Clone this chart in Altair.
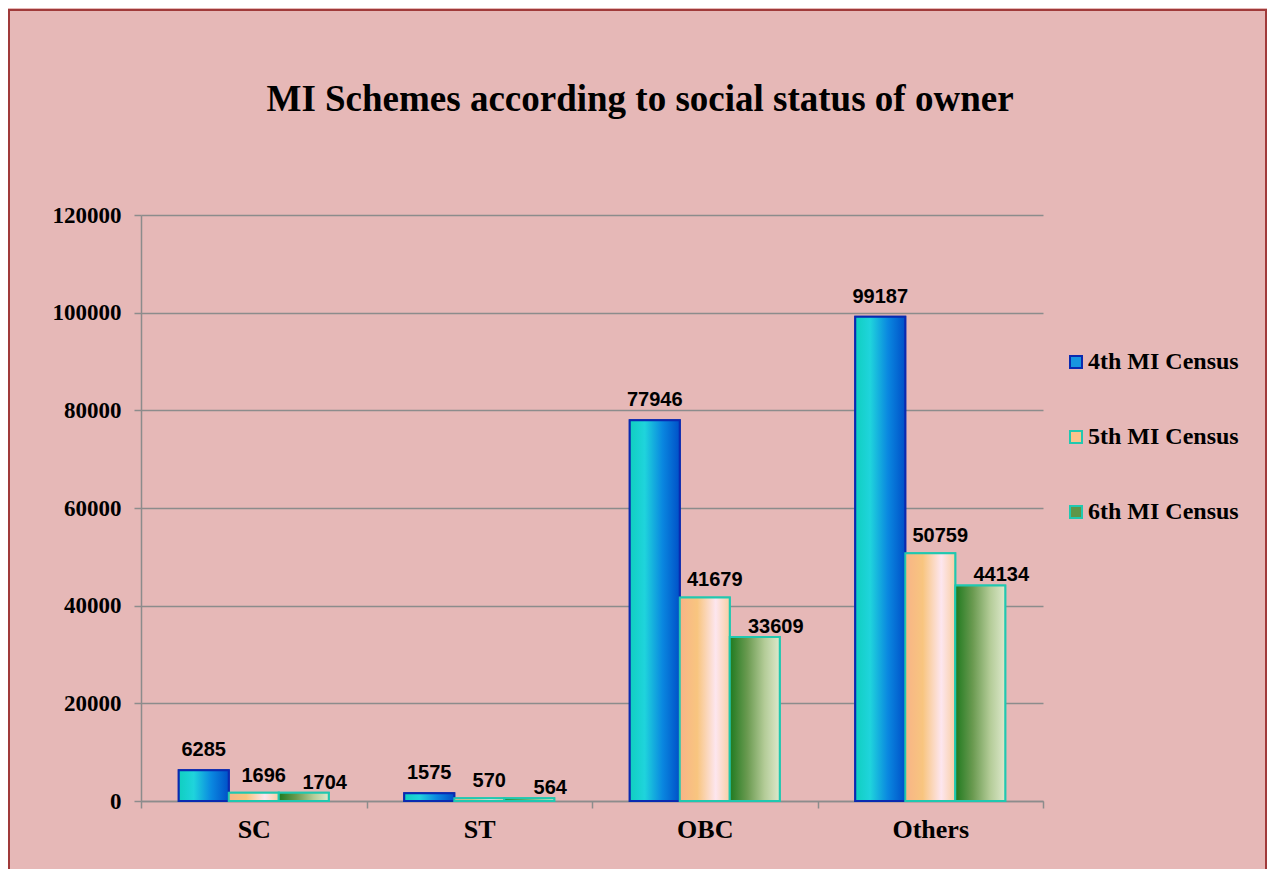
import altair as alt
import pandas as pd

categories = ["SC", "ST", "OBC", "Others"]
series = ["4th MI Census", "5th MI Census", "6th MI Census"]
census_4th = [6285, 1575, 77946, 99187]
census_5th = [1696, 570, 41679, 50759]
census_6th = [1704, 564, 33609, 44134]
y_ticks = [0, 20000, 40000, 60000, 80000, 100000, 120000]
title_text = "MI Schemes according to social status of owner"

rows = []
for s, vals in zip(series, [census_4th, census_5th, census_6th]):
    for c, v in zip(categories, vals):
        rows.append({"category": c, "series": s, "value": v})
df = pd.DataFrame(rows)

W, H = 902, 586
PAD = {"left": 133, "top": 207, "right": 224, "bottom": 68}
GRAY = "#8c8c8c"
SERIF = "Liberation Serif"

x_enc = alt.X(
    "category:N", sort=categories,
    scale=alt.Scale(paddingInner=0, paddingOuter=0),
    axis=alt.Axis(title=None, labelAngle=0, labelFont=SERIF, labelFontWeight="bold",
                  labelFontSize=26, labelColor="black", labelPadding=8,
                  tickBand="extent", tickSize=7, tickColor=GRAY, tickWidth=1.5,
                  domainColor=GRAY, domainWidth=1.5, grid=False),
)
y_enc = alt.Y(
    "value:Q", scale=alt.Scale(domain=[0, 120000]),
    axis=alt.Axis(title=None, values=y_ticks, format="d", labelFont=SERIF,
                  labelFontWeight="bold", labelFontSize=23, labelColor="black",
                  labelPadding=13, tickSize=7, tickColor=GRAY, tickWidth=1.5,
                  domainColor=GRAY, domainWidth=1.5, grid=True, gridColor=GRAY,
                  gridWidth=1.5),
)
xoff = alt.XOffset("series:N", sort=series,
                   scale=alt.Scale(domain=series, paddingInner=0, paddingOuter=0.755))

fill_solid = ["#1796e0", "#f9c38c", "#5e9648"]
stroke_cols = ["#0a2ab0", "#20c8b0", "#20c8b0"]
leg = alt.Legend(title=None, orient="none", legendX=923, legendY=135,
                 symbolType="square", symbolSize=144, symbolStrokeWidth=2,
                 labelFont=SERIF, labelFontWeight="bold", labelFontSize=24,
                 labelColor="black", labelOffset=0, rowPadding=51)

base = alt.Chart(df).mark_bar(strokeWidth=2).encode(
    x=x_enc, xOffset=xoff, y=y_enc,
    color=alt.Color("series:N", sort=series, scale=alt.Scale(domain=series, range=fill_solid), legend=leg),
    stroke=alt.Stroke("series:N", sort=series, scale=alt.Scale(domain=series, range=stroke_cols), legend=leg),
)


def grad(stops):
    return alt.LinearGradient(
        gradient="linear",
        stops=[alt.GradientStop(offset=o, color=c) for o, c in stops],
        x1=0, x2=1, y1=0, y2=0,
    )


grads = [
    grad([(0, "#10cfc0"), (0.3, "#1fd4dc"), (0.65, "#0a88e0"), (1, "#0050c8")]),
    grad([(0, "#f8b487"), (0.35, "#f8c57f"), (0.72, "#fde6ef"), (1, "#f9cfa3")]),
    grad([(0, "#1f7a1f"), (0.35, "#6a9a50"), (0.7, "#b4cc98"), (1, "#dde8cc")]),
]
label_dx = [0, 10, 21]
label_dy = [-14, -11, -4]

layers = []
frame = alt.Chart(pd.DataFrame({"f": [0]})).mark_rect(
    fill="transparent", stroke="#a03a3a", strokeWidth=2
).encode(x=alt.value(-132), x2=alt.value(1125), y=alt.value(-205), y2=alt.value(700))
layers.append(frame)
layers.append(base)
for s, g, sc in zip(series, grads, stroke_cols):
    layers.append(
        alt.Chart(df).transform_filter(alt.datum.series == s)
        .mark_bar(fill=g, stroke=sc, strokeWidth=2)
        .encode(x=x_enc, xOffset=xoff, y=y_enc)
    )
for s, dx, dy in zip(series, label_dx, label_dy):
    layers.append(
        alt.Chart(df).transform_filter(alt.datum.series == s)
        .mark_text(font="Liberation Sans", fontWeight="bold", fontSize=20,
                   baseline="alphabetic", dx=dx, dy=dy, color="black")
        .encode(x=x_enc, xOffset=xoff, y=y_enc, text=alt.Text("value:Q", format="d"))
    )

chart = alt.layer(*layers).properties(
    width=W, height=H,
    title=alt.TitleParams(title_text, font=SERIF, fontSize=37, fontWeight="bold",
                          color="black", anchor="middle", dx=48, offset=-139,
                          baseline="alphabetic"),
    autosize=alt.AutoSizeParams(type="none"),
    padding=PAD,
    background="#e6b8b7",
).configure_view(stroke=None)

chart.save("out.html", embed_options={"renderer": "svg", "actions": False})
